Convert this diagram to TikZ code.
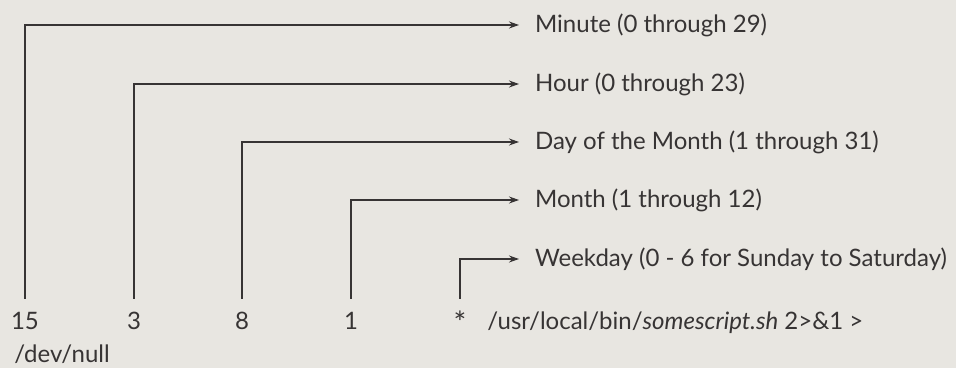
\documentclass[tikz,border=0pt]{standalone}
\usepackage{fontspec}
\setmainfont{Lato}
\usetikzlibrary{arrows.meta}
\definecolor{paper}{RGB}{232,230,225}
\definecolor{ink}{RGB}{55,52,52}
\tikzset{
    every node/.style = {font=\fontsize{12}{14}\selectfont, text=ink},
    field/.style = {anchor=base, text height=8pt, text depth=0pt, inner sep=3pt},
    meaning/.style = {anchor=west},
    link/.style = {draw=ink, line width=0.55pt, -{Stealth[length=5pt,width=3.5pt]}, shorten <=4pt, shorten >=4.5pt}
}
\begin{document}
\begin{tikzpicture}[x=0.5pt, y=-0.5pt]
        \fill[paper] (0,0) rectangle (956,368);
        \useasboundingbox (0,0) rectangle (956,368);

        \node[field] (min) at (25,329) {15};
        \node[field] (hr) at (134,329) {3};
        \node[field] (dom) at (242,329) {8};
        \node[field] (mon) at (351,329) {1};
        \node[field] (wd) at (460,329) {\raisebox{-2pt}{\fontsize{15}{15}\selectfont *}};
        \node[anchor=base west, inner sep=0pt] (cmd) at (487,329) {/usr/local/bin/\textit{somescript.sh} 2>\&1 >};
        \node[anchor=base west, inner sep=0pt] (null) at (14,362) {/dev/null};

        \node[meaning] (lmin) at (528,25) {Minute (0 through 29)};
        \node[meaning] (lhr) at (528,84) {Hour (0 through 23)};
        \node[meaning] (ldom) at (528,142) {Day of the Month (1 through 31)};
        \node[meaning] (lmon) at (528,200) {Month (1 through 12)};
        \node[meaning] (lwd) at (528,259) {Weekday (0 - 6 for Sunday to Saturday)};

        \path[link] (min.north) |- (lmin.west);
        \path[link] (hr.north) |- (lhr.west);
        \path[link] (dom.north) |- (ldom.west);
        \path[link] (mon.north) |- (lmon.west);
        \path[link] (wd.north) |- (lwd.west);
    \end{tikzpicture}
\end{document}
